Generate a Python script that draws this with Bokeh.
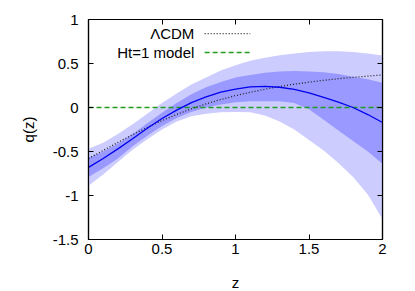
from bokeh.plotting import figure
from bokeh.models import LinearAxis, FixedTicker, Range1d, Label, Arrow
from bokeh.embed import file_html
from bokeh.resources import INLINE

# ---------------- data ----------------
z = [0.0, 0.1, 0.2, 0.3, 0.4, 0.5, 0.6, 0.7, 0.8, 0.9, 1.0,
     1.1, 1.2, 1.3, 1.4, 1.5, 1.6, 1.7, 1.8, 1.9, 2.0]

q_mean = [-0.68, -0.58, -0.47, -0.355, -0.235, -0.125, -0.03, 0.055, 0.12, 0.175, 0.21,
          0.235, 0.24, 0.23, 0.205, 0.165, 0.115, 0.06, 0.0, -0.08, -0.17]

outer_up = [-0.47, -0.40, -0.30, -0.19, -0.07, 0.05, 0.16, 0.26, 0.34, 0.42, 0.48,
            0.53, 0.565, 0.595, 0.615, 0.63, 0.64, 0.64, 0.63, 0.615, 0.59]
outer_lo = [-0.89, -0.76, -0.62, -0.48, -0.36, -0.25, -0.16, -0.10, -0.07, -0.055, -0.05,
            -0.055, -0.09, -0.16, -0.25, -0.37, -0.49, -0.63, -0.79, -0.99, -1.27]

inner_up = [-0.57, -0.50, -0.41, -0.30, -0.18, -0.06, 0.05, 0.15, 0.23, 0.29, 0.34,
            0.37, 0.395, 0.41, 0.415, 0.41, 0.40, 0.38, 0.35, 0.32, 0.28]
inner_lo = [-0.79, -0.69, -0.58, -0.44, -0.32, -0.21, -0.12, -0.05, 0.0, 0.035, 0.06,
            0.07, 0.07, 0.07, 0.05, -0.02, -0.14, -0.26, -0.38, -0.50, -0.64]

q_lcdm = [-0.58, -0.488, -0.397, -0.309, -0.226, -0.149, -0.079, -0.015, 0.041, 0.091, 0.135,
          0.173, 0.208, 0.238, 0.265, 0.288, 0.309, 0.327, 0.343, 0.357, 0.370]

z_ht = [0.0, 2.0]
q_ht = [0.0, 0.0]

x_ticks = [0, 0.5, 1, 1.5, 2]
x_tick_labels = ["0", "0.5", "1", "1.5", "2"]
y_ticks = [-1.5, -1, -0.5, 0, 0.5, 1]
y_tick_labels = ["-1.5", "-1", "-0.5", "0", "0.5", "1"]

legend_labels = ["\u039bCDM", "Ht=1 model"]

# ---------------- styling ----------------
FONT = "Liberation Sans"
FS = "15px"
LIGHT = "#ccccff"
DARK = "#9999ff"
BLUE = "#0000f0"
GREEN = "#1f9e1f"
DOT = "1 2"
DASH = "5 3"

p = figure(width=407, height=289, output_backend="svg", toolbar_location=None,
           x_range=Range1d(0, 2), y_range=Range1d(-1.5, 1),
           x_axis_label="z", y_axis_label="q(z)",
           min_border_left=88, min_border_right=25, min_border_top=19, min_border_bottom=50)
p.frame_width = 294
p.frame_height = 220
p.xgrid.visible = False
p.ygrid.visible = False
p.outline_line_color = "black"
p.outline_line_width = 1.2
p.background_fill_color = "white"
p.border_fill_color = "white"

p.varea(x=z, y1=outer_lo, y2=outer_up, fill_color=LIGHT, fill_alpha=1.0)
p.varea(x=z, y1=inner_lo, y2=inner_up, fill_color=DARK, fill_alpha=1.0)
p.line(z_ht, q_ht, line_color=GREEN, line_width=1.4, line_dash=DASH)
p.line(z, q_lcdm, line_color="#222222", line_width=1.3, line_dash=DOT)
p.line(z, q_mean, line_color=BLUE, line_width=1.3)

def style_axis(ax, ticks, labels, show_labels=True):
    ax.ticker = FixedTicker(ticks=ticks)
    ax.major_label_overrides = {t: l for t, l in zip(ticks, labels)}
    ax.major_tick_in = 5
    ax.major_tick_out = 0
    ax.minor_tick_in = 0
    ax.minor_tick_out = 0
    ax.major_tick_line_color = "black"
    ax.axis_line_color = "black"
    ax.axis_line_width = 1.2
    ax.major_label_text_font = FONT
    ax.major_label_text_font_size = FS if show_labels else "0px"
    ax.major_label_text_color = "black"
    ax.axis_label_text_font = FONT
    ax.axis_label_text_font_size = FS
    ax.axis_label_text_font_style = "normal"
    ax.axis_label_text_color = "black"

style_axis(p.xaxis[0], x_ticks, x_tick_labels)
p.xaxis[0].major_label_standoff = 4
p.xaxis[0].axis_label_standoff = 17
style_axis(p.yaxis[0], y_ticks, y_tick_labels)
p.yaxis[0].major_label_standoff = 10
p.yaxis[0].axis_label_standoff = 13

top = LinearAxis()
style_axis(top, x_ticks, ["" for _ in x_ticks], show_labels=False)
top.major_label_standoff = 0
p.add_layout(top, "above")
right = LinearAxis()
style_axis(right, y_ticks, ["" for _ in y_ticks], show_labels=False)
right.major_label_standoff = 0
p.add_layout(right, "right")

# ---------------- legend (gnuplot style: text then sample) ----------------
leg_x_text = 0.72
leg_x0, leg_x1 = 0.79, 1.10
leg_rows = [0.84, 0.625]
styles = [dict(line_color="#222222", line_dash=DOT, line_width=1.3),
          dict(line_color=GREEN, line_dash=DASH, line_width=1.4)]
for lab, yy, st in zip(legend_labels, leg_rows, styles):
    p.add_layout(Label(x=leg_x_text, y=yy, text=lab, text_align="right", text_baseline="middle",
                       text_font=FONT, text_font_size=FS, text_color="black"))
    p.add_layout(Arrow(x_start=leg_x0, y_start=yy, x_end=leg_x1, y_end=yy, end=None, **st))

open("out.html", "w").write(file_html(p, INLINE))
